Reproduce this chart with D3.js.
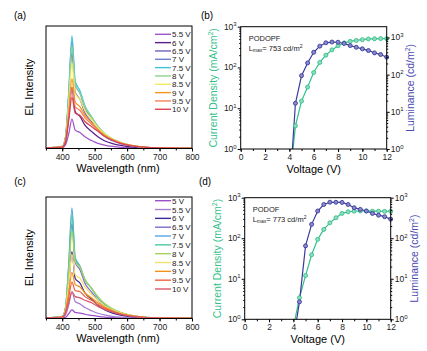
<!DOCTYPE html>
<html>
  <head>
    <script type="text/javascript" src="https://cdn.jsdelivr.net/npm/d3@7"></script>
    <style>
      body { margin: 0; background: #fff; }
      text { font-family: "Liberation Sans", Arial, sans-serif; }
    </style>
  </head>
  <body>
    <script type="text/javascript">
      // EL spectra (panels a, c) + J-V-L curves (panels b, d)
      var w = 427;
      var h = 351;

      var wavelengths = [350, 400, 410, 420, 430, 440, 455, 470, 490, 510, 530, 555, 580, 610, 650, 700, 800];

      var labelsA = ["5.5 V", "6 V", "6.5 V", "7 V", "7.5 V", "8 V", "8.5 V", "9 V", "9.5 V", "10 V"];
      var colorsA = ["#a055c8", "#5a1f8c", "#6f62bf", "#6f80cf", "#3fc2e0", "#8ed48c", "#f3ea62", "#f4981f", "#f7805f", "#d8434f"];
      var specA = [
        [.005, .008, .03, .12, .24, .15, .13, .095, .065, .042, .028, .017, .01, .006, .003, .001, .001],
        [.005, .01, .05, .25, .50, .30, .26, .19, .14, .095, .063, .04, .025, .014, .006, .002, .001],
        [.005, .015, .08, .39, .78, .46, .40, .29, .22, .15, .10, .063, .039, .022, .009, .004, .001],
        [.005, .018, .09, .44, .88, .52, .45, .33, .25, .17, .115, .07, .044, .025, .011, .004, .002],
        [.005, .018, .09, .46, .92, .55, .47, .35, .26, .18, .12, .075, .046, .026, .011, .005, .002],
        [.005, .017, .085, .42, .84, .52, .45, .34, .26, .18, .125, .08, .05, .028, .012, .005, .002],
        [.005, .015, .075, .36, .70, .45, .40, .31, .24, .17, .12, .077, .048, .027, .012, .005, .002],
        [.005, .013, .065, .30, .57, .38, .34, .27, .21, .155, .11, .072, .045, .026, .011, .005, .002],
        [.005, .012, .06, .27, .50, .34, .31, .25, .20, .15, .105, .07, .044, .025, .011, .005, .002],
        [.005, .011, .055, .23, .42, .29, .27, .22, .18, .14, .10, .067, .042, .024, .011, .005, .002]
      ];

      var labelsC = ["5 V", "5.5 V", "6 V", "6.5 V", "7 V", "7.5 V", "8 V", "8.5 V", "9 V", "9.5 V", "10 V"];
      var colorsC = ["#9b4fc8", "#a77fd2", "#3b2a98", "#7c6cc8", "#5aa6e0", "#4cc8a6", "#a9d15f", "#f6df6e", "#f5911d", "#f06340", "#d8566a"];
      var specC = [
        [.005, .006, .01, .04, .07, .05, .045, .035, .026, .018, .012, .008, .005, .003, .002, .001, .001],
        [.005, .008, .03, .11, .22, .14, .12, .09, .065, .043, .029, .018, .011, .006, .003, .001, .001],
        [.005, .012, .055, .28, .55, .33, .29, .21, .16, .11, .072, .045, .028, .016, .007, .003, .001],
        [.005, .015, .08, .39, .78, .46, .40, .29, .22, .15, .10, .063, .039, .022, .009, .004, .001],
        [.005, .018, .09, .45, .91, .50, .43, .32, .25, .17, .115, .072, .045, .025, .011, .004, .002],
        [.005, .017, .088, .43, .86, .49, .42, .32, .25, .175, .12, .075, .047, .026, .011, .005, .002],
        [.005, .016, .08, .37, .72, .47, .42, .32, .25, .18, .125, .08, .05, .028, .012, .005, .002],
        [.005, .014, .07, .28, .53, .36, .33, .26, .20, .15, .105, .07, .044, .025, .011, .005, .002],
        [.005, .012, .06, .21, .38, .28, .26, .21, .17, .13, .095, .064, .04, .023, .01, .004, .002],
        [.005, .011, .05, .17, .30, .23, .22, .18, .15, .115, .085, .058, .037, .021, .01, .004, .002],
        [.005, .01, .045, .13, .22, .18, .17, .15, .13, .10, .075, .052, .034, .02, .009, .004, .002]
      ];

      var voltage = [4, 4.5, 5, 5.5, 6, 6.5, 7, 7.5, 8, 8.5, 9, 9.5, 10, 10.5, 11, 11.5, 12];
      var currentB = [0.14, 3.7, 15, 33, 75, 133, 200, 270, 340, 400, 437, 460, 480, 500, 505, 510, 510];
      var luminanceB = [0.06, 17, 94, 207, 400, 585, 720, 753, 745, 690, 605, 545, 495, 445, 385, 348, 295];
      var currentD = [0.63, 3.4, 12, 39, 94, 165, 240, 320, 410, 450, 465, 470, 470, 465, 465, 460, 460];
      var luminanceD = [0.3, 2.7, 65, 220, 470, 680, 773, 770, 765, 680, 565, 515, 470, 410, 370, 340, 295];

      var green = "#35bf8c";
      var navy = "#3a3a9c";

      var svg = d3.select("body").append("svg")
        .attr("width", w)
        .attr("height", h);

      function panelLabel(txt, x, y) {
        svg.append("text").text(txt)
          .attr("x", x).attr("y", y)
          .attr("font-size", "10px")
          .attr("text-anchor", "middle");
      }

      function spectraPanel(id, box, labels, colors, spec, legendY, legendStep) {
        var xScale = d3.scaleLinear().domain([350, 800]).range([box.x0, box.x1]);
        var yScale = d3.scaleLinear().domain([0, 1]).range([box.y1, box.y0]);

        svg.append("clipPath").attr("id", id)
          .append("rect")
          .attr("x", box.x0).attr("y", box.y0)
          .attr("width", box.x1 - box.x0).attr("height", box.y1 - box.y0);

        var line = d3.line()
          .x((d, i) => xScale(wavelengths[i]))
          .y(d => yScale(d))
          .curve(d3.curveMonotoneX);

        svg.append("g").attr("clip-path", "url(#" + id + ")")
          .selectAll("path")
          .data(spec)
          .enter()
          .append("path")
          .attr("d", line)
          .attr("fill", "none")
          .attr("stroke", (d, i) => colors[i])
          .attr("stroke-width", 1.25);

        // minor ticks then major
        svg.append("g")
          .attr("transform", "translate(0," + box.y1 + ")")
          .call(d3.axisBottom(xScale).tickValues(d3.range(350, 801, 50)).tickSize(2).tickFormat(""))
          .call(g => g.select(".domain").remove());
        var ax = svg.append("g")
          .attr("transform", "translate(0," + box.y1 + ")")
          .call(d3.axisBottom(xScale).tickValues([400, 500, 600, 700, 800]).tickSize(3).tickPadding(2));
        ax.select(".domain").remove();
        ax.selectAll("text").attr("font-size", "8.5px").attr("fill", "#222");

        svg.append("rect")
          .attr("x", box.x0).attr("y", box.y0)
          .attr("width", box.x1 - box.x0).attr("height", box.y1 - box.y0)
          .attr("fill", "none").attr("stroke", "#000").attr("stroke-width", 1);

        svg.append("text").text("Wavelength (nm)")
          .attr("x", (box.x0 + box.x1) / 2 - 1).attr("y", box.y1 + 23)
          .attr("text-anchor", "middle").attr("font-size", "11px");

        svg.append("text").text("EL Intensity")
          .attr("transform", "translate(" + (box.x0 - 13) + "," + ((box.y0 + box.y1) / 2) + ") rotate(-90)")
          .attr("text-anchor", "middle").attr("font-size", "11px");

        // legend
        var leg = svg.append("g");
        labels.forEach((lab, i) => {
          var y = legendY + i * legendStep;
          leg.append("line")
            .attr("x1", box.x1 - 37).attr("x2", box.x1 - 21)
            .attr("y1", y).attr("y2", y)
            .attr("stroke", colors[i]).attr("stroke-width", 1.4);
          leg.append("text").text(lab)
            .attr("x", box.x1 - 20).attr("y", y + 3)
            .attr("font-size", "8px").attr("fill", "#222");
        });
      }

      function supText(sel, base, sup, size) {
        sel.append("tspan").text(base);
        sel.append("tspan").text(sup).attr("dy", -3.5).attr("font-size", size);
      }

      function jlPanel(id, box, cur, lum, lumMax, name, lmax) {
        var xScale = d3.scaleLinear().domain([0, 12]).range([box.x0, box.x1]);
        var yL = d3.scaleLog().domain([1, 1000]).range([box.y1, box.y0]);
        var yR = d3.scaleLog().domain([1, lumMax]).range([box.y1, box.y0]);

        svg.append("clipPath").attr("id", id)
          .append("rect")
          .attr("x", box.x0).attr("y", box.y0 - 3)
          .attr("width", box.x1 - box.x0 + 3).attr("height", box.y1 - box.y0 + 3);

        var plot = svg.append("g").attr("clip-path", "url(#" + id + ")");

        var lineL = d3.line().x((d, i) => xScale(voltage[i])).y(d => yL(d));
        var lineR = d3.line().x((d, i) => xScale(voltage[i])).y(d => yR(d));

        plot.append("path").attr("d", lineL(cur))
          .attr("fill", "none").attr("stroke", green).attr("stroke-width", 1.2);
        plot.append("path").attr("d", lineR(lum))
          .attr("fill", "none").attr("stroke", navy).attr("stroke-width", 1.2);

        plot.selectAll("circle.cur")
          .data(cur).enter().append("circle")
          .attr("cx", (d, i) => xScale(voltage[i]))
          .attr("cy", d => yL(d))
          .attr("r", 2)
          .attr("fill", "#8fdcbc").attr("stroke", green).attr("stroke-width", 0.9);
        plot.selectAll("circle.lum")
          .data(lum).enter().append("circle")
          .attr("cx", (d, i) => xScale(voltage[i]))
          .attr("cy", d => yR(d))
          .attr("r", 2)
          .attr("fill", "#8a8ac8").attr("stroke", navy).attr("stroke-width", 0.9);

        // x axis
        svg.append("g")
          .attr("transform", "translate(0," + box.y1 + ")")
          .call(d3.axisBottom(xScale).tickValues(d3.range(0, 13, 1)).tickSize(2).tickFormat(""))
          .call(g => g.select(".domain").remove());
        var ax = svg.append("g")
          .attr("transform", "translate(0," + box.y1 + ")")
          .call(d3.axisBottom(xScale).tickValues(d3.range(0, 13, 2)).tickSize(3).tickPadding(2));
        ax.select(".domain").remove();
        ax.selectAll("text").attr("font-size", "8.5px").attr("fill", "#222");

        // log minor ticks
        var minorL = [];
        for (var e = 1; e < 1000; e *= 10) for (var k = 2; k < 10; k++) minorL.push(e * k);
        var minorR = minorL.filter(v => v <= lumMax);

        svg.append("g")
          .attr("transform", "translate(" + box.x0 + ",0)")
          .call(d3.axisLeft(yL).tickValues(minorL).tickSize(1.5).tickFormat(""))
          .call(g => g.select(".domain").remove());
        var al = svg.append("g")
          .attr("transform", "translate(" + box.x0 + ",0)")
          .call(d3.axisLeft(yL).tickValues([1, 10, 100, 1000]).tickSize(3).tickFormat(""));
        al.select(".domain").remove();

        svg.append("g")
          .attr("transform", "translate(" + box.x1 + ",0)")
          .call(d3.axisRight(yR).tickValues(minorR).tickSize(1.5).tickFormat(""))
          .call(g => g.select(".domain").remove());
        var ar = svg.append("g")
          .attr("transform", "translate(" + box.x1 + ",0)")
          .call(d3.axisRight(yR).tickValues([1, 10, 100, 1000]).tickSize(3).tickFormat(""));
        ar.select(".domain").remove();

        // tick labels 10^n
        [1, 10, 100, 1000].forEach((v, n) => {
          var tl = svg.append("text")
            .attr("x", box.x0 - 4).attr("y", yL(v) + 3)
            .attr("text-anchor", "end").attr("font-size", "8.5px").attr("fill", "#222");
          supText(tl, "10", String(n), "6px");
          var tr = svg.append("text")
            .attr("x", box.x1 + 4).attr("y", yR(v) + 3)
            .attr("font-size", "8.5px").attr("fill", "#222");
          supText(tr, "10", String(n), "6px");
        });

        svg.append("rect")
          .attr("x", box.x0).attr("y", box.y0)
          .attr("width", box.x1 - box.x0).attr("height", box.y1 - box.y0)
          .attr("fill", "none").attr("stroke", "#000").attr("stroke-width", 1);

        svg.append("text").text("Voltage (V)")
          .attr("x", (box.x0 + box.x1) / 2).attr("y", box.y1 + 24)
          .attr("text-anchor", "middle").attr("font-size", "11px");

        var lt = svg.append("text")
          .attr("transform", "translate(" + (box.x0 - 24) + "," + ((box.y0 + box.y1) / 2) + ") rotate(-90)")
          .attr("text-anchor", "middle").attr("font-size", "10.5px").attr("fill", green);
        supText(lt, "Current Density (mA/cm", "2", "7px");
        lt.append("tspan").text(")").attr("dy", 3.5);

        var rt = svg.append("text")
          .attr("transform", "translate(" + (box.x1 + 27) + "," + ((box.y0 + box.y1) / 2) + ") rotate(-90)")
          .attr("text-anchor", "middle").attr("font-size", "10.5px").attr("fill", "#4b4bb2");
        supText(rt, "Luminance (cd/m", "2", "7px");
        rt.append("tspan").text(")").attr("dy", 3.5);

        svg.append("text").text(name)
          .attr("x", box.x0 + 8).attr("y", box.y0 + 14)
          .attr("font-size", "7.5px").attr("fill", "#222");
        var lm = svg.append("text")
          .attr("x", box.x0 + 8).attr("y", box.y0 + 24)
          .attr("font-size", "7.5px").attr("fill", "#222");
        lm.append("tspan").text("L");
        lm.append("tspan").text("max").attr("font-size", "5px").attr("dy", 1.5);
        lm.append("tspan").text("= " + lmax + " cd/m").attr("dy", -1.5);
        lm.append("tspan").text("2").attr("font-size", "5px").attr("dy", -3);
      }

      spectraPanel("clipA", {x0: 46, x1: 192, y0: 26, y1: 148.5}, labelsA, colorsA, specA, 34.3, 8.33);
      spectraPanel("clipC", {x0: 46, x1: 192, y0: 197, y1: 318.5}, labelsC, colorsC, specC, 200.7, 8.83);
      jlPanel("clipB", {x0: 240.7, x1: 386.7, y0: 26.7, y1: 149}, currentB, luminanceB, 1950, "PODOPF", 753);
      jlPanel("clipD", {x0: 244.7, x1: 390.7, y0: 197.7, y1: 319.3}, currentD, luminanceD, 1000, "PODOF", 773);

      panelLabel("(a)", 20, 19);
      panelLabel("(b)", 207, 19);
      panelLabel("(c)", 20, 185);
      panelLabel("(d)", 205, 185);
    </script>
  </body>
</html>
